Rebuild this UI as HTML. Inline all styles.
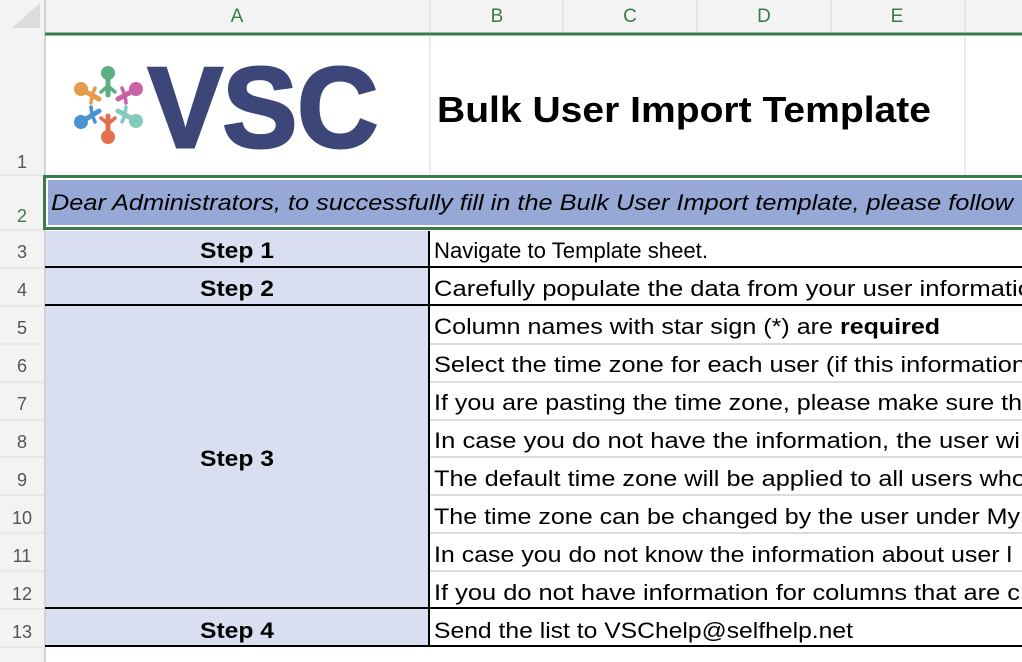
<!DOCTYPE html>
<html><head><meta charset="utf-8"><style>
html,body{margin:0;padding:0;background:#fff;overflow:hidden}
svg{display:block}
text{font-family:"Liberation Sans",Arial,sans-serif}
</style></head><body>
<svg width="1022" height="662" viewBox="0 0 1022 662" xmlns="http://www.w3.org/2000/svg">
<rect x="0" y="0" width="1022" height="33" fill="#f3f3f3"/>
<rect x="0" y="0" width="45" height="662" fill="#f3f3f3"/>
<polygon points="12,28 40,28 40,3" fill="#dcdcdc"/>
<line x1="45" y1="0" x2="45" y2="662" stroke="#c8c8c8" stroke-width="1.5"/>
<g stroke="#dadada" stroke-width="1">
<line x1="430" y1="0" x2="430" y2="32"/><line x1="563" y1="0" x2="563" y2="32"/><line x1="697" y1="0" x2="697" y2="32"/><line x1="831" y1="0" x2="831" y2="32"/><line x1="965" y1="0" x2="965" y2="32"/>
</g>
<g fill="#3b7a4d" font-size="19" text-anchor="middle">
<text x="237" y="22">A</text><text x="497" y="22">B</text><text x="630" y="22">C</text><text x="764" y="22">D</text><text x="897" y="22">E</text>
</g>
<g stroke="#dcdcdc" stroke-width="1">
<line x1="0" y1="175" x2="45" y2="175"/><line x1="0" y1="230" x2="45" y2="230"/>
<line x1="0" y1="268" x2="45" y2="268"/><line x1="0" y1="306" x2="45" y2="306"/><line x1="0" y1="344" x2="45" y2="344"/><line x1="0" y1="382" x2="45" y2="382"/><line x1="0" y1="420" x2="45" y2="420"/><line x1="0" y1="457" x2="45" y2="457"/><line x1="0" y1="495" x2="45" y2="495"/><line x1="0" y1="533" x2="45" y2="533"/><line x1="0" y1="571" x2="45" y2="571"/><line x1="0" y1="609" x2="45" y2="609"/><line x1="0" y1="647" x2="45" y2="647"/>
</g>
<g fill="#555" font-size="18" text-anchor="middle">
<text x="22" y="168">1</text>
<text x="22" y="222" fill="#3b7a4d">2</text>
<text x="22" y="258">3</text><text x="22" y="296">4</text><text x="22" y="334">5</text><text x="22" y="372">6</text><text x="22" y="410">7</text><text x="22" y="448">8</text><text x="22" y="486">9</text><text x="22" y="524">10</text><text x="22" y="562">11</text><text x="22" y="600">12</text><text x="22" y="638">13</text>
</g>
<line x1="45" y1="34" x2="1022" y2="34" stroke="#3b7a4d" stroke-width="3"/>
<line x1="430" y1="35" x2="430" y2="175" stroke="#d8d8d8"/>
<line x1="965" y1="35" x2="965" y2="175" stroke="#d8d8d8"/>
<g stroke-linecap="round">
<g fill="#5daf80" stroke="#5daf80"><circle cx="108" cy="73" r="7" stroke="none"/><line x1="108" y1="78" x2="108" y2="95" stroke-width="5"/><line x1="108" y1="86" x2="101" y2="92" stroke-width="3.5"/><line x1="108" y1="86" x2="115" y2="92" stroke-width="3.5"/></g>
<g fill="#c963a5" stroke="#c963a5"><circle cx="136" cy="89" r="7" stroke="none"/><line x1="131" y1="92" x2="118" y2="99" stroke-width="5"/><line x1="125" y1="95" x2="122" y2="88" stroke-width="3.5"/><line x1="125" y1="95" x2="126" y2="103" stroke-width="3.5"/></g>
<g fill="#84cbbd" stroke="#84cbbd"><circle cx="136" cy="121" r="7" stroke="none"/><line x1="131" y1="118" x2="118" y2="111" stroke-width="5"/><line x1="125" y1="115" x2="122" y2="122" stroke-width="3.5"/><line x1="125" y1="115" x2="126" y2="107" stroke-width="3.5"/></g>
<g fill="#e2704e" stroke="#e2704e"><circle cx="108" cy="137" r="7" stroke="none"/><line x1="108" y1="132" x2="108" y2="116" stroke-width="5"/><line x1="108" y1="124" x2="101" y2="118" stroke-width="3.5"/><line x1="108" y1="124" x2="115" y2="118" stroke-width="3.5"/></g>
<g fill="#4a93d0" stroke="#4a93d0"><circle cx="81" cy="122" r="7" stroke="none"/><line x1="86" y1="119" x2="99" y2="111" stroke-width="5"/><line x1="92" y1="115" x2="95" y2="122" stroke-width="3.5"/><line x1="92" y1="115" x2="91" y2="107" stroke-width="3.5"/></g>
<g fill="#e59a4c" stroke="#e59a4c"><circle cx="81" cy="89" r="7" stroke="none"/><line x1="86" y1="92" x2="99" y2="99" stroke-width="5"/><line x1="92" y1="95" x2="95" y2="88" stroke-width="3.5"/><line x1="92" y1="95" x2="91" y2="103" stroke-width="3.5"/></g>
</g>
<text x="148" y="147" font-size="114" font-weight="bold" fill="#3d4678" stroke="#3d4678" stroke-width="3" textLength="230" lengthAdjust="spacingAndGlyphs">VSC</text>
<text x="437" y="122" font-size="36" font-weight="bold" fill="#000" textLength="494" lengthAdjust="spacingAndGlyphs">Bulk User Import Template</text>
<rect x="44.5" y="176.5" width="990" height="52" fill="#fff" stroke="#3b7a4d" stroke-width="3"/>
<rect x="48" y="180" width="980" height="45" fill="#95a8d6"/>
<text x="51" y="210" font-size="22" font-style="italic" fill="#000" textLength="962" lengthAdjust="spacingAndGlyphs">Dear Administrators, to successfully fill in the Bulk User Import template, please follow</text>
<rect x="46" y="231" width="383" height="416" fill="#d9dff0"/>
<g stroke="#d0d0d0" stroke-width="1.5">
<line x1="430" y1="344" x2="1022" y2="344"/><line x1="430" y1="382" x2="1022" y2="382"/><line x1="430" y1="420" x2="1022" y2="420"/><line x1="430" y1="457" x2="1022" y2="457"/><line x1="430" y1="495" x2="1022" y2="495"/><line x1="430" y1="533" x2="1022" y2="533"/><line x1="430" y1="571" x2="1022" y2="571"/>
</g>
<g stroke="#000" stroke-width="2">
<line x1="45" y1="267" x2="1022" y2="267"/><line x1="45" y1="305" x2="1022" y2="305"/><line x1="45" y1="608" x2="1022" y2="608"/><line x1="45" y1="646" x2="1022" y2="646"/>
<line x1="429" y1="231" x2="429" y2="647"/>
</g>
<g font-size="22" font-weight="bold" text-anchor="middle" fill="#000">
<text x="237" y="258" textLength="74" lengthAdjust="spacingAndGlyphs">Step 1</text><text x="237" y="296" textLength="74" lengthAdjust="spacingAndGlyphs">Step 2</text><text x="237" y="466" textLength="74" lengthAdjust="spacingAndGlyphs">Step 3</text><text x="237" y="638" textLength="74" lengthAdjust="spacingAndGlyphs">Step 4</text>
</g>
<g font-size="22" fill="#000">
<text x="434" y="258" textLength="274" lengthAdjust="spacingAndGlyphs">Navigate to Template sheet.</text>
<text x="434" y="296" textLength="598" lengthAdjust="spacingAndGlyphs">Carefully populate the data from your user informatio</text>
<text x="434" y="334" textLength="399" lengthAdjust="spacingAndGlyphs">Column names with star sign (*) are</text>
<text x="840" y="334" textLength="100" lengthAdjust="spacingAndGlyphs" font-weight="bold">required</text>
<text x="434" y="372" textLength="592" lengthAdjust="spacingAndGlyphs">Select the time zone for each user (if this information</text>
<text x="434" y="410" textLength="588" lengthAdjust="spacingAndGlyphs">If you are pasting the time zone, please make sure th</text>
<text x="434" y="448" textLength="586" lengthAdjust="spacingAndGlyphs">In case you do not have the information,  the user wi</text>
<text x="434" y="486" textLength="592" lengthAdjust="spacingAndGlyphs">The default time zone will be applied to all users who</text>
<text x="434" y="524" textLength="586" lengthAdjust="spacingAndGlyphs">The time zone can be changed by the user under My</text>
<text x="434" y="562" textLength="578" lengthAdjust="spacingAndGlyphs">In case you do not know the information about user l</text>
<text x="434" y="600" textLength="586" lengthAdjust="spacingAndGlyphs">If you do not have information for columns that are c</text>
<text x="434" y="638" textLength="419" lengthAdjust="spacingAndGlyphs">Send the list to VSChelp@selfhelp.net</text>
</g>
</svg>
</body></html>
